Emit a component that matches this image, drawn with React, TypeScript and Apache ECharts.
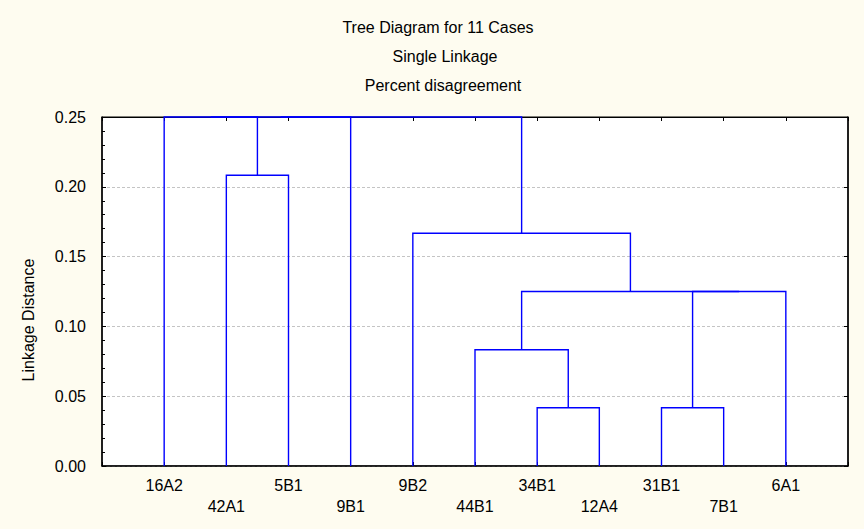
import React, { useEffect, useRef } from 'react';
import * as echarts from 'echarts';

const titleLines = ['Tree Diagram for 11 Cases', 'Single Linkage', 'Percent disagreement'];
const yAxisTitle = 'Linkage Distance';
const leaves = ['16A2', '42A1', '5B1', '9B1', '9B2', '44B1', '34B1', '12A4', '31B1', '7B1', '6A1'];
// Each merge joins node A and node B at a linkage distance; merged node ids continue after the leaves (11, 12, ...)
const mergeA = [6, 8, 5, 12, 13, 4, 1, 0, 18, 19];
const mergeB = [7, 9, 11, 10, 14, 15, 2, 17, 3, 16];
const mergeDistance = [0.0417, 0.0417, 0.0833, 0.125, 0.125, 0.1667, 0.2083, 0.27, 0.29, 0.31];
const yMin = 0;
const yMax = 0.25;
const yStep = 0.05;

const FONT = 'Arial, "Liberation Sans", sans-serif';

function buildLinks() {
  const nodeX: number[] = leaves.map((_, i) => i + 1);
  const nodeH: number[] = leaves.map(() => 0);
  const links: number[][] = [];
  for (let i = 0; i < mergeA.length; i++) {
    const a = mergeA[i];
    const b = mergeB[i];
    const h = Math.min(mergeDistance[i], yMax);
    links.push([nodeX[a], nodeH[a], nodeX[b], nodeH[b], h]);
    nodeX.push((nodeX[a] + nodeX[b]) / 2);
    nodeH.push(h);
  }
  return links;
}

export default function App() {
  const ref = useRef<HTMLDivElement>(null);
  useEffect(() => {
    if (!ref.current) return;
    const chart = echarts.init(ref.current, null, { renderer: 'svg' });
    const links = buildLinks();
    const gridLeft = 102;
    const gridTop = 117;
    const gridW = 746;
    const gridH = 349;
    const xLabel = (v: number) => {
      const i = Math.round(v) - 1;
      if (i < 0 || i >= leaves.length) return '';
      return i % 2 === 0 ? leaves[i] + '\n ' : ' \n' + leaves[i];
    };
    const option: any = {
      animation: false,
      backgroundColor: '#fefcf0',
      textStyle: { fontFamily: FONT },
      graphic: [
        ...titleLines.map((t, i) => ({
          type: 'text',
          x: [438, 445, 443][i],
          y: 27 + i * 29,
          style: {
            text: t,
            font: `16px ${FONT}`,
            fill: '#000',
            textAlign: 'center',
            textVerticalAlign: 'middle',
          },
        })),
        {
          type: 'text',
          x: 28,
          y: 320,
          rotation: Math.PI / 2,
          style: {
            text: yAxisTitle,
            font: `16px ${FONT}`,
            fill: '#000',
            textAlign: 'center',
            textVerticalAlign: 'middle',
          },
        },
      ],
      grid: {
        left: gridLeft,
        top: gridTop,
        width: gridW,
        height: gridH,
        show: true,
        backgroundColor: '#ffffff',
        borderColor: '#000',
        borderWidth: 1,
      },
      xAxis: [
        {
          type: 'value',
          position: 'bottom',
          min: 0,
          max: leaves.length + 1,
          interval: 1,
          axisLine: { show: true, onZero: false, lineStyle: { color: '#000', width: 1.5 } },
          axisTick: { show: true, inside: true, length: 4, lineStyle: { color: '#000' } },
          splitLine: { show: false },
          axisLabel: {
            show: true,
            formatter: xLabel,
            color: '#000',
            fontSize: 16,
            fontFamily: FONT,
            lineHeight: 21,
            margin: 9,
            showMinLabel: true,
            showMaxLabel: true,
          },
        },
        {
          type: 'value',
          position: 'top',
          min: 0,
          max: leaves.length + 1,
          interval: 1,
          axisLine: { show: true, onZero: false, lineStyle: { color: '#000', width: 1 } },
          axisTick: { show: true, inside: true, length: 4, lineStyle: { color: '#000' } },
          splitLine: { show: false },
          axisLabel: { show: false },
        },
      ],
      yAxis: [
        {
          type: 'value',
          position: 'left',
          min: yMin,
          max: yMax,
          interval: yStep,
          axisLine: { show: true, onZero: false, lineStyle: { color: '#000', width: 1.5 } },
          axisTick: { show: true, inside: true, length: 4, lineStyle: { color: '#000' } },
          minorTick: { show: true, splitNumber: 5, length: 3, lineStyle: { color: '#000' } },
          splitLine: { show: true, lineStyle: { color: '#c4c4c4', type: [3, 2], width: 1 } },
          axisLabel: {
            formatter: (v: number) => v.toFixed(2),
            color: '#000',
            fontSize: 16,
            fontFamily: FONT,
            margin: 16,
          },
        },
        {
          type: 'value',
          position: 'right',
          min: yMin,
          max: yMax,
          interval: yStep,
          axisLine: { show: true, onZero: false, lineStyle: { color: '#000', width: 1.5 } },
          axisTick: { show: true, inside: true, length: 4, lineStyle: { color: '#000' } },
          splitLine: { show: false },
          axisLabel: { show: false },
        },
      ],
      series: [
        {
          type: 'custom',
          xAxisIndex: 0,
          yAxisIndex: 0,
          z: 10,
          encode: { x: [0, 2], y: [1, 3, 4] },
          data: links,
          renderItem: (params: any, api: any) => {
            const xa = api.value(0);
            const ya = api.value(1);
            const xb = api.value(2);
            const yb = api.value(3);
            const h = api.value(4);
            const pts = [
              api.coord([xa, ya]),
              api.coord([xa, h]),
              api.coord([xb, h]),
              api.coord([xb, yb]),
            ];
            return {
              type: 'polyline',
              shape: { points: pts },
              style: { stroke: '#0000ff', lineWidth: 1.4, fill: 'none' },
            };
          },
        },
      ],
    };
    chart.setOption(option);
    return () => chart.dispose();
  }, []);
  return (
    <div
      ref={ref}
      style={{ position: 'absolute', left: 0, top: 0, width: 864, height: 529 }}
    />
  );
}
